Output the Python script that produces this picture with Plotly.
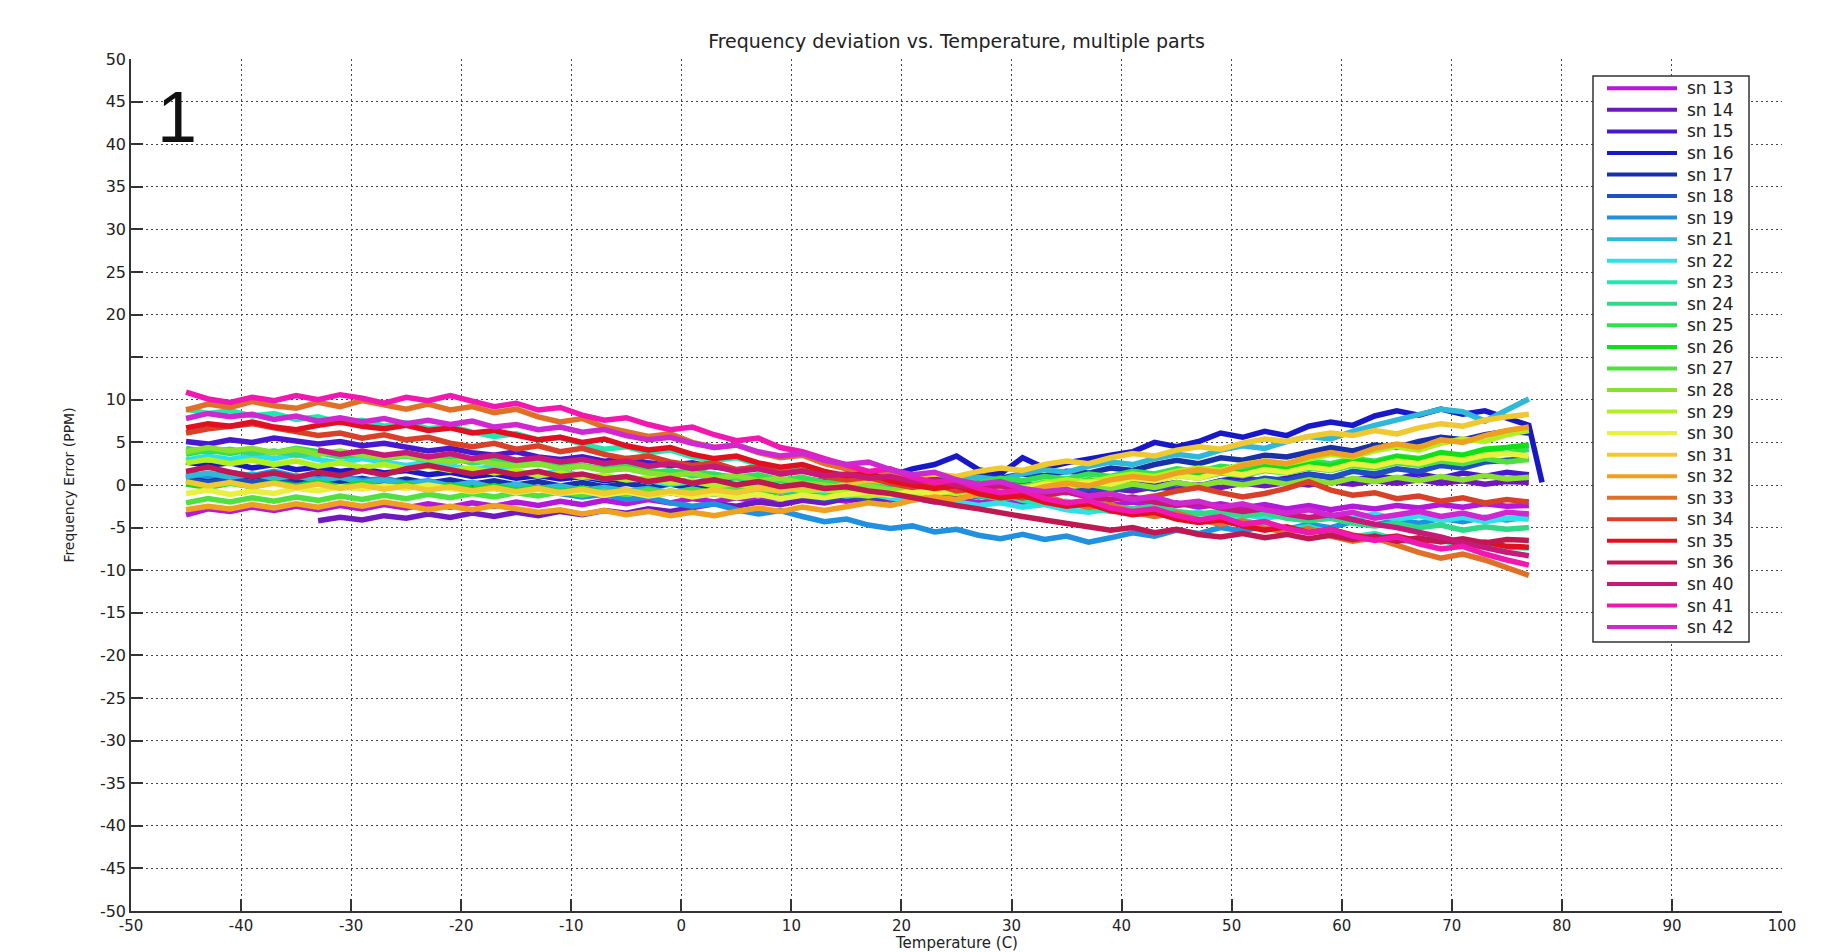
import plotly.graph_objects as go

# Temperature sweep (C) shared by all parts; late starters use the tail of it
T_GRID = [-45, -43, -41, -39, -37, -35, -33, -31, -29, -27,
          -25, -23, -21, -19, -17, -15, -13, -11, -9, -7,
          -5, -3, -1, 1, 3, 5, 7, 9, 11, 13,
          15, 17, 19, 21, 23, 25, 27, 29, 31, 33,
          35, 37, 39, 41, 43, 45, 47, 49, 51, 53,
          55, 57, 59, 61, 63, 65, 67, 69, 71, 73,
          75, 77]
# sn 16 settles at the hot end after the sweep stops
T_SN16 = T_GRID + [78.2]

# Frequency error (PPM) per part
SN13 = [-3.5, -2.8, -3.1, -2.6, -3.0, -2.5, -2.9, -2.4, -2.8, -2.3,
        -2.7, -2.2, -2.6, -2.1, -2.5, -2.0, -2.4, -1.9, -2.3, -1.8,
        -2.2, -1.7, -2.1, -1.6, -2.0, -1.5, -1.9, -1.4, -1.8, -1.5,
        -1.9, -1.4, -1.8, -1.5, -2.0, -1.6, -2.1, -1.7, -2.2, -1.8,
        -2.3, -1.9, -2.4, -2.0, -2.5, -2.1, -2.6, -2.2, -2.7, -2.3,
        -2.8, -2.4, -2.9, -2.5, -2.8, -2.4, -2.7, -2.3, -2.6, -2.2,
        -2.5, -2.4]
SN14 = [-4.2, -3.8, -4.1, -3.6,
        -3.9, -3.4, -3.8, -3.3, -3.7, -3.2, -3.6, -3.1, -3.5, -3.0,
        -3.3, -2.8, -3.1, -2.6, -2.2, -2.5, -2.0, -2.3, -1.8, -2.1,
        -1.6, -1.9, -1.4, -1.7, -1.2, -1.5, -1.0, -1.3, -0.8, -1.1,
        -0.6, -0.9, -0.4, -0.7, -0.2, -0.5, 0.0, -0.3, 0.2, -0.1,
        0.3, 0.0, 0.4, 0.1, 0.5, 0.2, 0.6, 0.2, 0.5, 0.1,
        0.4, 0.3]
SN15 = [5.1, 4.8, 5.3, 5.0, 5.5, 5.2, 4.8, 5.1, 4.6, 4.9,
        4.4, 4.0, 4.3, 3.8, 3.5, 3.9, 3.3, 3.0, 3.3, 2.8,
        3.1, 2.6, 2.3, 2.6, 2.1, 1.8, 2.1, 1.5, 1.8, 1.2,
        0.9, 1.2, 0.6, 0.3, 0.7, 0.1, 0.4, -0.2, 0.2, -0.3,
        0.1, -0.4, 0.0, 0.4, -0.1, 0.3, -0.2, 0.5, 0.9, 0.4,
        0.8, 1.3, 0.9, 0.5, 1.1, 0.7, 1.3, 0.8, 1.4, 1.0,
        1.5, 1.2]
SN16 = [2.7, 2.3, 2.6, 2.0, 2.4, 1.8, 2.1, 1.6, 1.9, 1.4,
        1.7, 1.2, 1.5, 1.0, 1.3, 0.8, 1.1, 0.7, 1.0, 0.5,
        0.8, 0.4, 0.7, 0.3, 0.6, 0.2, 0.5, 0.3, 0.7, 0.4,
        0.9, 1.5, 1.1, 1.9, 2.4, 3.4, 1.8, 1.3, 3.2, 2.0,
        2.6, 3.1, 3.5, 3.9, 5.0, 4.5, 5.1, 6.1, 5.6, 6.3,
        5.8, 6.9, 7.4, 7.0, 8.1, 8.7, 8.2, 8.9, 8.3, 8.7,
        7.8, 7.0,
        0.3]
SN17 = [1.2, 0.8, 1.3, 0.9, 1.2, 0.6, 0.9, 0.4, 0.8, 0.3,
        0.7, 0.2, 0.6, 0.1, 0.5, 0.0, 0.4, -0.1, 0.3, -0.2,
        0.2, -0.3, 0.1, -0.4, 0.0, -0.3, 0.2, -0.2, 0.3, 0.0,
        0.4, 0.1, 0.6, 0.3, 0.8, 0.5, 1.1, 0.8, 1.3, 1.1,
        1.6, 1.4, 2.0, 1.7, 2.4, 2.9, 2.5, 3.2, 2.9, 3.5,
        3.3, 3.9, 4.4, 4.0, 4.7, 4.4, 5.1, 5.6, 5.3, 5.9,
        6.3, 6.1]
SN18 = [0.6, 0.2, 0.7, 0.3, 0.6, 0.0, 0.3, -0.3, 0.1, -0.4,
        0.0, -0.5, -0.1, -0.6, -0.3, -0.8, -0.4, -0.9, -0.6, -1.1,
        -0.7, -1.2, -0.9, -1.4, -1.0, -1.5, -1.1, -1.6, -1.2, -1.7,
        -1.3, -1.6, -1.2, -1.7, -1.3, -0.9, -1.4, -0.8, -1.2, -0.6,
        -0.9, -0.4, -0.7, -0.1, -0.5, 0.2, -0.1, 0.5, 0.2, 0.8,
        0.5, 1.2, 0.9, 1.6, 1.3, 1.9, 1.6, 2.3, 2.0, 2.7,
        2.9, 3.1]
SN19 = [1.4, 1.0, 1.5, 1.1, 1.6, 1.0, 0.7, 1.1, 0.5, 0.8,
        0.2, 0.5, -0.1, 0.3, -0.4, -0.8, -0.4, -1.0, -1.4, -1.1,
        -1.7, -1.4, -2.1, -2.5, -2.2, -2.9, -3.4, -3.0, -3.7, -4.3,
        -4.0, -4.7, -5.1, -4.8, -5.5, -5.2, -5.9, -6.3, -5.8, -6.4,
        -6.0, -6.7, -6.2, -5.6, -6.0, -5.3, -5.7, -5.0, -5.4, -4.8,
        -5.2, -4.6, -5.0, -4.3, -4.7, -4.1, -4.5, -3.9, -4.3, -3.8,
        -4.1, -3.7]
SN21 = [1.0, 1.4, 0.9, 1.3, 0.8, 1.1, 0.5, 0.9, 0.3, 0.6,
        0.1, 0.4, -0.1, 0.3, -0.3, 0.1, -0.4, -0.1, -0.6, -0.3,
        -0.7, -0.4, -0.9, -0.5, -1.0, -0.6, -1.1, -0.7, -1.2, -0.8,
        -0.5, -0.9, -0.4, 0.1, -0.2, 0.5, 0.9, 0.6, 1.3, 1.8,
        1.5, 2.2, 2.7, 2.4, 3.1, 3.6, 3.3, 4.1, 4.6, 4.3,
        5.1, 5.7, 5.4, 6.3, 7.0, 7.6, 8.3, 8.9, 8.6, 7.5,
        8.8, 10.1]
SN22 = [2.9, 3.4, 3.0, 3.5, 3.1, 3.6, 3.0, 2.6, 3.1, 2.7,
        2.3, 2.7, 2.2, 1.8, 2.2, 1.6, 1.2, 1.6, 1.1, 0.7,
        1.0, 0.5, 0.1, 0.4, -0.1, -0.5, -0.2, -0.7, -0.4, -0.9,
        -1.3, -1.0, -1.5, -1.8, -1.4, -2.0, -2.4, -2.1, -2.6, -2.3,
        -2.9, -3.2, -2.8, -3.4, -3.0, -3.6, -3.2, -3.8, -3.4, -3.9,
        -3.5, -4.1, -3.6, -3.9, -3.4, -4.0, -3.6, -4.2, -3.8, -4.3,
        -3.9, -4.0]
SN23 = [8.9, 8.4, 8.7, 8.1, 8.4, 7.7, 8.0, 7.3, 7.6, 6.9,
        7.3, 6.6, 6.9, 6.2, 5.7, 6.0, 5.3, 5.6, 4.8, 4.2,
        4.5, 3.8, 4.1, 3.3, 2.9, 3.2, 2.4, 1.9, 2.2, 1.3,
        0.8, 1.1, 0.2, -0.3, 0.0, -0.8, -1.3, -1.0, -1.8, -2.2,
        -1.9, -2.7, -3.1, -2.8, -3.6, -3.2, -4.0, -4.5, -4.1, -4.8,
        -5.2, -4.9, -5.6, -6.1, -5.7, -6.4, -6.8, -6.5, -7.1, -6.8,
        -7.3, -7.4]
SN24 = [4.3, 3.9, 4.2, 3.7, 4.0, 3.5, 3.8, 3.3, 3.6, 3.1,
        3.4, 2.9, 3.2, 2.6, 2.9, 2.3, 2.6, 2.0, 2.3, 1.7,
        2.0, 1.4, 1.7, 1.1, 1.3, 0.7, 1.0, 0.4, 0.6, 0.1,
        0.3, -0.3, -0.1, -0.6, -0.9, -0.6, -1.2, -1.6, -1.3, -1.9,
        -2.2, -1.9, -2.5, -2.8, -2.5, -3.1, -3.4, -3.1, -3.6, -3.3,
        -3.9, -4.2, -3.9, -4.5, -4.8, -4.5, -5.0, -4.7, -5.3, -4.9,
        -5.2, -5.0]
SN25 = [3.6, 4.1, 3.7, 4.2, 3.8, 4.3, 3.9, 3.4, 3.8, 3.3,
        3.6, 3.1, 3.4, 2.9, 3.2, 2.7, 2.4, 2.7, 2.2, 1.9,
        2.2, 1.7, 1.4, 1.7, 1.2, 0.9, 1.2, 0.6, 0.9, 0.3,
        0.6, 0.1, 0.4, -0.1, 0.3, 0.6, 0.2, 0.8, 0.5, 1.0,
        0.7, 1.3, 1.0, 1.6, 1.3, 1.9, 1.6, 2.2, 1.9, 2.5,
        2.2, 2.8, 2.5, 3.1, 2.8, 3.4, 3.1, 3.7, 3.4, 4.0,
        3.7, 4.2]
SN26 = [0.1, -0.3, 0.2, -0.2, 0.3, -0.1, 0.3, -0.2, 0.2, -0.3,
        0.1, -0.4, 0.0, -0.5, -0.1, -0.6, -0.3, -0.8, -0.4, -0.9,
        -0.6, -1.1, -0.7, -1.2, -0.9, -1.4, -1.0, -1.5, -1.1, -1.4,
        -1.0, -0.6, -1.0, -0.5, -0.8, -0.3, -0.6, 0.0, -0.3, 0.3,
        0.0, 0.6, 0.3, 0.9, 0.6, 1.3, 1.0, 1.7, 1.4, 2.1,
        1.8, 2.5, 2.2, 2.9, 2.6, 3.3, 3.0, 3.8, 3.5, 4.2,
        4.4, 4.7]
SN27 = [-2.1, -1.6, -2.0, -1.5, -1.9, -1.4, -1.8, -1.3, -1.7, -1.2,
        -1.6, -1.1, -1.5, -1.0, -1.4, -0.9, -1.3, -0.8, -1.2, -0.7,
        -1.1, -0.6, -1.0, -0.5, -0.9, -0.4, -0.8, -0.3, -0.7, -0.4,
        -0.8, -0.4, -0.8, -0.3, -0.6, -0.1, -0.4, 0.1, -0.2, 0.3,
        0.0, 0.5, 0.2, 0.8, 0.5, 1.1, 0.8, 1.4, 1.1, 1.7,
        1.4, 2.0, 1.7, 2.3, 2.0, 2.6, 2.3, 2.8, 2.5, 3.1,
        2.7, 3.0]
SN28 = [3.9, 4.4, 4.0, 4.3, 3.8, 4.2, 3.6, 4.0, 3.5, 3.2,
        3.5, 3.0, 2.7, 3.0, 2.5, 2.2, 2.5, 1.9, 2.2, 1.7,
        1.9, 1.4, 1.1, 1.4, 0.8, 1.1, 0.5, 0.8, 0.2, 0.0,
        -0.4, -0.1, -0.6, -0.3, -0.8, -0.5, -1.0, -0.6, -0.2, -0.7,
        -0.3, 0.1, -0.4, 0.1, -0.3, 0.3, -0.1, 0.4, 0.0, 0.5,
        0.1, 0.6, 0.2, 0.8, 0.4, 0.9, 0.5, 1.0, 0.6, 1.1,
        0.7, 0.9]
SN29 = [2.6, 3.0, 2.5, 2.9, 2.4, 2.8, 2.2, 2.6, 2.1, 2.4,
        1.9, 2.2, 1.7, 2.0, 1.4, 1.7, 1.1, 1.4, 0.9, 1.1,
        0.6, 0.8, 0.3, 0.5, -0.1, 0.2, -0.4, -0.1, -0.7, -0.5,
        -1.0, -1.3, -0.9, -1.2, -0.7, -1.0, -0.5, -0.1, -0.4, 0.2,
        0.6, 0.3, 0.9, 1.3, 1.0, 1.6, 2.0, 1.7, 2.4, 2.8,
        2.5, 3.1, 3.6, 3.3, 4.0, 4.5, 4.1, 4.9, 5.4, 5.1,
        5.9, 6.4]
SN30 = [-1.0, -0.6, -1.1, -0.7, -1.0, -0.4, -0.7, -0.2, -0.5, -0.1,
        -0.4, 0.0, -0.4, -0.8, -0.4, -0.9, -0.5, -1.0, -0.7, -1.2,
        -0.8, -1.3, -0.9, -1.4, -1.0, -1.5, -1.1, -1.6, -1.2, -1.5,
        -1.1, -0.8, -1.2, -0.7, -1.0, -0.5, -0.8, -0.2, -0.5, 0.1,
        -0.2, 0.4, 0.1, 0.8, 0.5, 1.1, 0.8, 1.5, 1.2, 1.8,
        1.5, 2.1, 1.8, 2.5, 2.2, 2.8, 2.5, 3.2, 2.9, 3.5,
        3.7, 3.4]
SN31 = [0.4, -0.1, 0.3, -0.2, 0.2, -0.3, 0.1, -0.4, 0.0, -0.5,
        -0.1, -0.6, -0.2, -0.7, -0.3, -0.8, -0.4, -0.9, -0.5, -1.0,
        -0.6, -1.1, -0.7, -1.0, -0.6, -0.9, -0.4, -0.7, -0.2, -0.5,
        0.1, 0.6, 0.3, 0.9, 1.3, 1.0, 1.6, 2.0, 1.7, 2.4,
        2.8, 2.5, 3.2, 3.7, 3.4, 4.1, 4.5, 4.2, 4.9, 5.4,
        5.1, 5.7, 6.1, 5.8, 6.4, 6.0, 6.7, 7.2, 6.9, 7.6,
        8.0, 8.3]
SN32 = [-2.9, -2.5, -2.8, -2.3, -2.7, -2.2, -2.6, -2.1, -2.5, -2.0,
        -2.4, -2.9, -2.5, -2.9, -2.4, -2.8, -3.2, -2.9, -3.4, -3.0,
        -3.5, -3.1, -3.6, -3.2, -3.6, -3.1, -2.7, -3.1, -2.6, -3.0,
        -2.5, -2.1, -2.4, -1.8, -1.4, -1.7, -1.0, -0.6, -0.9, -0.2,
        0.2, -0.1, 0.6, 1.0, 0.7, 1.4, 1.8, 1.5, 2.3, 2.8,
        2.5, 3.3, 3.8, 3.4, 4.3, 4.8, 4.4, 5.3, 5.0, 5.8,
        6.4, 6.8]
SN33 = [8.8, 9.5, 9.1, 9.8, 9.3, 9.0, 9.7, 9.2, 9.9, 9.4,
        8.9, 9.5, 8.8, 9.2, 8.5, 8.9, 8.0, 7.4, 7.8, 6.8,
        6.2, 5.7, 6.0, 5.0, 4.4, 4.7, 3.8, 3.2, 3.5, 2.5,
        1.9, 1.2, 1.5, 0.6, 0.1, -0.5, -0.2, -1.1, -1.5, -1.2,
        -2.1, -2.6, -2.3, -3.2, -3.7, -3.3, -4.1, -4.6, -4.2, -5.1,
        -5.5, -5.1, -6.0, -6.6, -6.2, -7.1, -7.9, -8.6, -8.1, -8.8,
        -9.7, -10.6]
SN34 = [6.1, 6.6, 6.9, 7.2, 6.7, 6.3, 5.8, 6.1, 5.5, 5.9,
        5.3, 5.6, 4.9, 4.5, 4.9, 4.2, 4.6, 3.9, 4.3, 3.6,
        3.1, 3.4, 2.7, 2.3, 2.6, 1.8, 2.1, 1.4, 1.7, 1.0,
        0.6, 0.9, 0.2, -0.3, 0.1, -0.7, -0.4, -1.1, -1.5, -1.2,
        -0.8, -1.4, -1.0, -1.7, -1.3, -0.7, -0.3, -0.9, -1.4, -1.0,
        -0.4, 0.4, -0.6, -1.2, -0.9, -1.6, -1.3, -1.9, -1.5, -2.1,
        -1.7, -2.0]
SN35 = [6.7, 7.2, 6.9, 7.4, 6.8, 6.5, 7.0, 7.4, 6.9, 6.6,
        7.0, 6.4, 6.7, 6.1, 6.4, 5.8, 5.3, 5.6, 5.0, 5.4,
        4.6, 4.1, 4.4, 3.6, 3.1, 3.4, 2.6, 2.1, 2.4, 1.6,
        1.1, 1.4, 0.5, 0.0, -0.4, -0.1, -1.0, -1.5, -1.2, -2.0,
        -2.5, -2.2, -3.0, -3.5, -3.2, -4.0, -4.4, -4.1, -4.8, -5.3,
        -4.9, -5.6, -5.2, -5.9, -6.3, -6.0, -6.6, -6.3, -7.0, -6.7,
        -7.2, -7.3]
SN36 = [1.6, 2.1, 1.5, 1.0, 1.4, 0.9, 1.5, 1.1, 1.7, 1.2,
        1.9, 2.3, 1.8, 1.3, 1.7, 1.2, 1.6, 1.0, 1.3, 0.7,
        1.0, 0.4, 0.8, 0.2, 0.6, 0.0, 0.4, -0.2, 0.1, -0.4,
        -0.2, -0.7, -1.0, -1.5, -1.9, -2.4, -2.8, -3.3, -3.7, -4.1,
        -4.5, -4.9, -5.3, -5.0, -5.6, -5.2, -5.8, -6.1, -5.7, -6.2,
        -5.8, -6.3, -5.9, -6.4, -6.0, -6.6, -6.2, -6.7, -6.3, -6.8,
        -6.4, -6.5]
SN40 = [4.1, 3.6, 4.0, 3.5,
        3.8, 3.3, 3.7, 3.1, 3.5, 2.9, 3.2, 2.7, 3.0, 2.5,
        2.8, 2.2, 2.5, 1.9, 2.2, 1.6, 1.9, 1.3, 1.6, 1.1,
        1.3, 0.8, 1.0, 0.4, 0.6, 0.0, -0.3, -0.1, -0.7, -1.1,
        -0.8, -1.4, -1.7, -1.4, -2.0, -2.4, -2.1, -2.7, -3.1, -2.8,
        -3.4, -3.8, -3.5, -4.1, -4.6, -5.0, -5.5, -6.1, -6.8, -7.4,
        -7.9, -8.3]
SN41 = [10.9, 10.1, 9.7, 10.3, 9.9, 10.5, 10.0, 10.6, 10.2, 9.6,
        10.3, 9.9, 10.5, 9.8, 9.2, 9.6, 8.8, 9.1, 8.2, 7.6,
        7.9, 7.1, 6.5, 6.8, 5.9, 5.2, 5.5, 4.4, 3.9, 3.1,
        2.4, 1.6, 1.9, 0.9, 0.3, 0.6, -0.4, -0.9, -0.6, -1.6,
        -2.1, -1.8, -2.7, -3.1, -2.8, -3.6, -4.1, -3.7, -4.6, -4.3,
        -5.1, -5.6, -5.2, -6.0, -6.5, -6.1, -6.9, -7.5, -7.2, -8.1,
        -8.8, -9.4]
SN42 = [7.8, 8.4, 8.0, 8.3, 7.7, 8.1, 7.5, 7.9, 7.4, 7.8,
        7.2, 7.6, 7.1, 7.5, 6.8, 7.1, 6.5, 6.8, 6.2, 6.5,
        5.8, 5.3, 5.6, 4.9, 4.4, 4.7, 3.9, 3.4, 3.7, 2.9,
        2.4, 2.7, 1.8, 1.2, 1.5, 0.6, 0.1, 0.4, -0.4, -0.8,
        -0.5, -1.3, -1.0, -1.7, -1.4, -2.2, -1.9, -2.6, -2.2, -2.9,
        -3.3, -2.9, -3.6, -3.2, -3.9, -3.5, -3.1, -3.7, -3.3, -3.9,
        -3.2, -3.4]

PART_NAMES = ["sn 13", "sn 14", "sn 15", "sn 16", "sn 17", "sn 18", "sn 19",
              "sn 21", "sn 22", "sn 23", "sn 24", "sn 25", "sn 26", "sn 27",
              "sn 28", "sn 29", "sn 30", "sn 31", "sn 32", "sn 33", "sn 34",
              "sn 35", "sn 36", "sn 40", "sn 41", "sn 42"]
PART_VALUES = [SN13, SN14, SN15, SN16, SN17, SN18, SN19,
               SN21, SN22, SN23, SN24, SN25, SN26, SN27,
               SN28, SN29, SN30, SN31, SN32, SN33, SN34,
               SN35, SN36, SN40, SN41, SN42]
PART_COLORS = ["#b418d8", "#7018c0", "#4818d0", "#1818c8", "#1830a8", "#2050c0",
               "#2090e0", "#30b8d8", "#30e0e8", "#20e8b0", "#30d888", "#30e050",
               "#10e018", "#50e040", "#88e030", "#b0f020", "#e8f040", "#f0c830",
               "#f0a020", "#e07028", "#d84028", "#e01020", "#c01850", "#c81878",
               "#f018b0", "#d028d0"]
SPECIAL_TEMPS = {"sn 16": T_SN16}

X_TICKS = list(range(-50, 101, 10))
X_TICK_TEXT = [str(v) for v in X_TICKS]
Y_TICKS = list(range(-50, 51, 5))
Y_TICK_TEXT = ["" if v == 15 else str(v) for v in Y_TICKS]

# Figure geometry in pixels
W, H = 1835, 952
PLOT_L, PLOT_R, PLOT_T, PLOT_B = 131, 1782, 59, 911


def px_x(px):
    return (px - PLOT_L) / (PLOT_R - PLOT_L)


def px_y(py):
    return (PLOT_B - py) / (PLOT_B - PLOT_T)


FONT = "DejaVu Sans"
TEXT_COLOR = "#222222"
AXIS_COLOR = "#333333"

fig = go.Figure()
for name, vals, color in zip(PART_NAMES, PART_VALUES, PART_COLORS):
    temps = SPECIAL_TEMPS.get(name, T_GRID[-len(vals):])
    if len(temps) != len(vals):
        raise ValueError(f"{name}: {len(vals)} values for {len(temps)} temperatures")
    fig.add_trace(go.Scatter(
        x=temps, y=vals, mode="lines", name=name,
        line=dict(color=color, width=5.5),
        showlegend=False,
    ))

axis_common = dict(
    ticks="inside", ticklen=12, tickwidth=1.5, tickcolor=AXIS_COLOR,
    showline=True, linecolor=AXIS_COLOR, linewidth=1.5, mirror=False,
    showgrid=True, gridcolor="#444444", gridwidth=1, griddash="1.5px,3.5px",
    zeroline=False, automargin=False,
)

fig.update_xaxes(
    range=[-50, 100], tickmode="array", tickvals=X_TICKS, ticktext=X_TICK_TEXT,
    tickfont=dict(family=FONT, size=15, color=TEXT_COLOR),
    **axis_common,
)
fig.update_yaxes(
    range=[-50, 50], tickmode="array", tickvals=Y_TICKS, ticktext=Y_TICK_TEXT,
    tickfont=dict(family=FONT, size=16, color=TEXT_COLOR),
    title=dict(text="Frequency Error (PPM)", font=dict(family=FONT, size=14, color=TEXT_COLOR),
               standoff=22),
    **axis_common,
)

# Legend box drawn in pixel-derived paper coordinates
LEG_L, LEG_R, LEG_T, LEG_B = 1593, 1749, 76, 642
LEG_ROW0, LEG_STEP = 88.3, 21.55
LEG_LINE_X0, LEG_LINE_X1, LEG_TEXT_X = 1607, 1677, 1685

shapes = [dict(type="rect", xref="paper", yref="paper", layer="above",
               x0=px_x(LEG_L), x1=px_x(LEG_R), y0=px_y(LEG_B), y1=px_y(LEG_T),
               line=dict(color=AXIS_COLOR, width=1.5), fillcolor="white")]
annotations = []
for i, (name, color) in enumerate(zip(PART_NAMES, PART_COLORS)):
    ry = px_y(LEG_ROW0 + i * LEG_STEP)
    shapes.append(dict(type="line", xref="paper", yref="paper", layer="above",
                       x0=px_x(LEG_LINE_X0), x1=px_x(LEG_LINE_X1), y0=ry, y1=ry,
                       line=dict(color=color, width=4)))
    annotations.append(dict(xref="paper", yref="paper", x=px_x(LEG_TEXT_X), y=ry,
                            xanchor="left", yanchor="middle", showarrow=False,
                            text=name, font=dict(family=FONT, size=17, color=TEXT_COLOR)))

# X-axis title, set just below the tick labels
annotations.append(dict(xref="paper", yref="paper", x=0.5, y=px_y(943),
                        xanchor="center", yanchor="middle", showarrow=False,
                        text="Temperature (C)",
                        font=dict(family=FONT, size=15, color=TEXT_COLOR)))

# Panel number
annotations.append(dict(xref="paper", yref="paper", x=px_x(155), y=px_y(117.5),
                        xanchor="left", yanchor="middle", showarrow=False, text="1",
                        font=dict(family="Liberation Sans", size=72, color="#111111")))

fig.update_layout(
    width=W, height=H, autosize=False,
    margin=dict(l=PLOT_L, r=W - PLOT_R, t=PLOT_T, b=H - PLOT_B, pad=0),
    paper_bgcolor="white", plot_bgcolor="white",
    showlegend=False,
    title=dict(text="Frequency deviation vs. Temperature, multiple parts",
               x=(PLOT_L + PLOT_R) / 2 / W, xanchor="center",
               y=1 - 41 / H, yanchor="middle",
               font=dict(family=FONT, size=19, color=TEXT_COLOR)),
    shapes=shapes,
    annotations=annotations,
)

fig.write_html("out.html")
